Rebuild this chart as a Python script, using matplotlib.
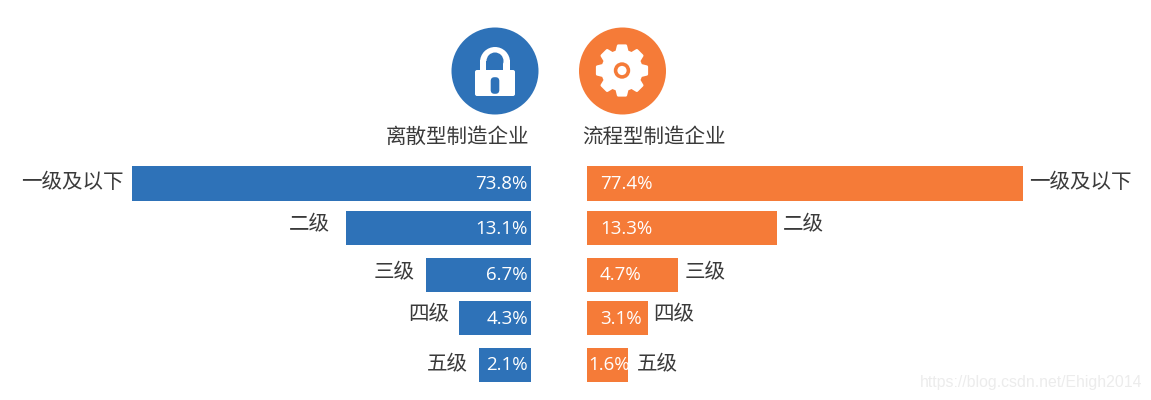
import numpy as np
import matplotlib
matplotlib.use('Agg')
import matplotlib.pyplot as plt
from matplotlib.patches import Circle, FancyBboxPatch, Polygon, Rectangle

plt.rcParams['font.family'] = ['Noto Sans CJK SC', 'DejaVu Sans']

niveis = ['一级及以下', '二级', '三级', '四级', '五级']
discreto = ['73.8%', '13.1%', '6.7%', '4.3%', '2.1%']
processo = ['77.4%', '13.3%', '4.7%', '3.1%', '1.6%']

# the bars in the picture are not proportional to the percentages
comp_discreto = [399, 185, 105, 72, 52]
comp_processo = [436, 190, 91, 61, 41]

AZUL = '#2e72b8'
LARANJA = '#f57b38'
TEXTO = '#3a3a3a'

fig = plt.figure(figsize=(11.51, 4.0), dpi=100)
ax = fig.add_axes([0, 0, 1, 1])
ax.set_xlim(0, 1151)
ax.set_ylim(400, 0)
ax.axis('off')

topos = [166, 211, 258, 301, 348]
alturas = [35, 34, 34, 34, 34]
centros = [t + a / 2 for t, a in zip(topos, alturas)]
centros_txt = [182, 224, 272, 314, 364]
folga_esq = [8, 16, 11, 10, 11]
folga_dir = [6, 6, 7, 5, 9]

ax.barh(centros, comp_discreto, height=alturas, left=[531 - c for c in comp_discreto], color=AZUL)
ax.barh(centros, comp_processo, height=alturas, left=587, color=LARANJA)

for i, nome in enumerate(niveis):
    fim_esq = 531 - comp_discreto[i]
    fim_dir = 587 + comp_processo[i]
    ax.text(fim_esq - folga_esq[i], centros_txt[i], nome, ha='right', va='center', fontsize=14.8, color=TEXTO)
    ax.text(fim_dir + folga_dir[i], centros_txt[i], nome, ha='left', va='center', fontsize=14.8, color=TEXTO)

    ax.text(528, centros[i] + 0.5, discreto[i], ha='right', va='center', fontsize=13.5,
            color='white', family='Open Sans')
    # smallest orange bar has its label squeezed in
    x_rot = 588 if i == 4 else 600
    ax.text(x_rot, centros[i] + 0.5, processo[i], ha='left', va='center', fontsize=13.5,
            color='white', family='Open Sans')

ax.text(457.5, 137, '离散型制造企业', ha='center', va='center', fontsize=14.8, color=TEXTO)
ax.text(654, 137, '流程型制造企业', ha='center', va='center', fontsize=14.8, color=TEXTO)

# lock icon
ax.add_patch(Circle((495, 71), 43.5, color=AZUL, lw=0))
ax.add_patch(Rectangle((480, 60), 30, 14, color='white', lw=0))
ax.add_patch(Circle((495, 62), 15, color='white', lw=0))
ax.add_patch(Circle((495, 61), 8.5, color=AZUL, lw=0))
ax.add_patch(Rectangle((486.5, 61), 17, 10, color=AZUL, lw=0))
ax.add_patch(FancyBboxPatch((477, 72), 36, 22, boxstyle='round,pad=2', color='white', lw=0))
ax.add_patch(FancyBboxPatch((494.5, 81), 1, 9, boxstyle='round,pad=3.8', color=AZUL, lw=0))

# gear icon
dentes = 8
ang = []
raio = []
for k in range(dentes):
    base = 2 * np.pi * k / dentes
    for d, r in [(-0.27, 19.5), (-0.15, 25), (0.15, 25), (0.27, 19.5)]:
        ang.append(base + d)
        raio.append(r)
ang = np.array(ang)
raio = np.array(raio)
ax.add_patch(Circle((622.5, 71), 43.5, color=LARANJA, lw=0))
ax.add_patch(Polygon(np.column_stack([622 + raio * np.cos(ang), 70.5 + raio * np.sin(ang)]),
                     closed=True, facecolor='white', edgecolor='white', lw=2, joinstyle='round'))
ax.add_patch(Circle((622, 70.5), 8.2, color=LARANJA, lw=0))
ax.add_patch(Circle((622, 70.5), 4.6, color='white', lw=0))

# watermark
ax.text(1142, 382.5, 'https://blog.csdn.net/Ehigh2014', ha='right', va='center', fontsize=11.4,
        color='#ececec', family='Liberation Sans')

fig.savefig('out.png', dpi=100)
